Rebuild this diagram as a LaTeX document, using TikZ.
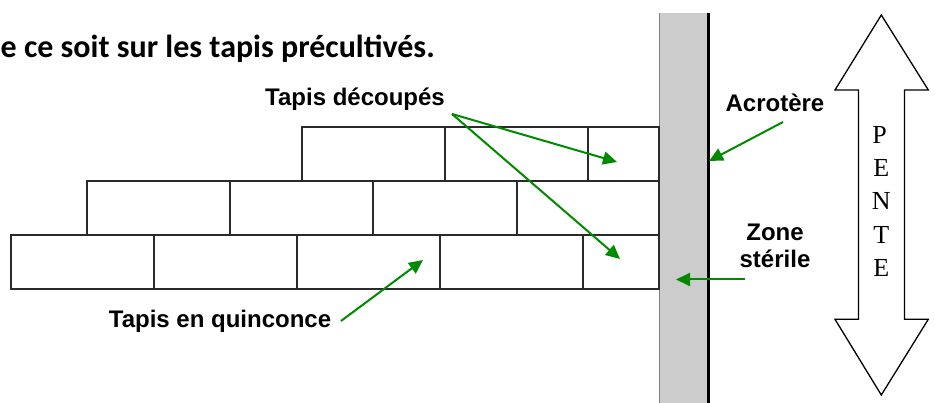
\documentclass[tikz,border=0pt]{standalone}
\usepackage{fontspec}
\setmainfont{Liberation Sans}
\newfontfamily\titlefont{Carlito}
\newfontfamily\serifont{Liberation Serif}
\usetikzlibrary{arrows.meta}
\definecolor{arrgreen}{HTML}{008A00}
\definecolor{wallgray}{HTML}{CCCCCC}
\definecolor{brickline}{HTML}{2A2A2A}
\tikzset{
  brick/.style={draw=brickline, line width=1.3pt},
  lbl/.style={font=\fontsize{24}{28}\selectfont\bfseries, inner sep=0pt, anchor=base},
  ptr/.style={draw=arrgreen, line width=2pt, -{Triangle[length=14pt,width=13pt]}},
  pente/.style={font=\serifont\fontsize{26}{30}\selectfont, inner sep=0pt, anchor=base}
}
\begin{document}
\begin{tikzpicture}[x=1pt,y=-1pt]
\useasboundingbox (0,0) rectangle (935,403);
% title
\node[font=\titlefont\bfseries\fontsize{32}{36}\selectfont, inner sep=0pt, anchor=base west] (title) at (0.5,58) {e ce soit sur les tapis précultivés.};
% wall
\fill[wallgray] (659,13) rectangle (707,403);
\draw[gray, line width=1pt] (659.5,13) -- (659.5,403);
\draw[black, line width=3pt] (708,13) -- (708,403);
% bricks row 1
\draw[brick] (302,127) rectangle (445,181);
\draw[brick] (445,127) rectangle (588,181);
\draw[brick] (588,127) rectangle (659,181);
% row 2
\draw[brick] (87,181) rectangle (230,235);
\draw[brick] (230,181) rectangle (373,235);
\draw[brick] (373,181) rectangle (517,235);
\draw[brick] (517,181) rectangle (659,235);
% row 3
\draw[brick] (11,235) rectangle (154,289);
\draw[brick] (154,235) rectangle (297,289);
\draw[brick] (297,235) rectangle (440,289);
\draw[brick] (440,235) rectangle (583,289);
\draw[brick] (583,235) rectangle (659,289);
% labels
\node[lbl] (decoup) at (355,106) {Tapis découpés};
\node[lbl] (quinc) at (220,328) {Tapis en quinconce};
\node[lbl] (acro) at (775,112) {Acrotère};
\node[lbl, align=center] (zone) at (775,268) {Zone\\[-0.5pt]stérile};
% connector points
\coordinate (dstart) at (452,114);
\coordinate (t1) at (617,162);
\coordinate (t2) at (620,259);
\coordinate (qstart) at (341,321);
\coordinate (t3) at (423,260);
\coordinate (astart) at (783,122);
\coordinate (t4) at (709,161);
\coordinate (zstart) at (745,279.5);
\coordinate (t5) at (676,279.5);
\draw[ptr] (dstart) -- (t1);
\draw[ptr] (dstart) -- (t2);
\draw[ptr] (qstart) -- (t3);
\draw[ptr] (astart) -- (t4);
\draw[ptr] (zstart) -- (t5);
% double arrow
\draw[black, line width=1.3pt, line join=miter, fill=white]
  (881.3,15) -- (928.3,90) -- (904.5,90) -- (904.5,319.3) -- (928.3,319.3)
  -- (881.3,395) -- (835,319.3) -- (858.5,319.3) -- (858.5,90) -- (835,90) -- cycle;
\node[pente] (p1) at (879.5,143.3) {P};
\node[pente] (p2) at (881.3,176.3) {E};
\node[pente] (p3) at (881.3,210) {N};
\node[pente] (p4) at (881.3,243.3) {T};
\node[pente] (p5) at (881.3,277) {E};
\end{tikzpicture}
\end{document}
